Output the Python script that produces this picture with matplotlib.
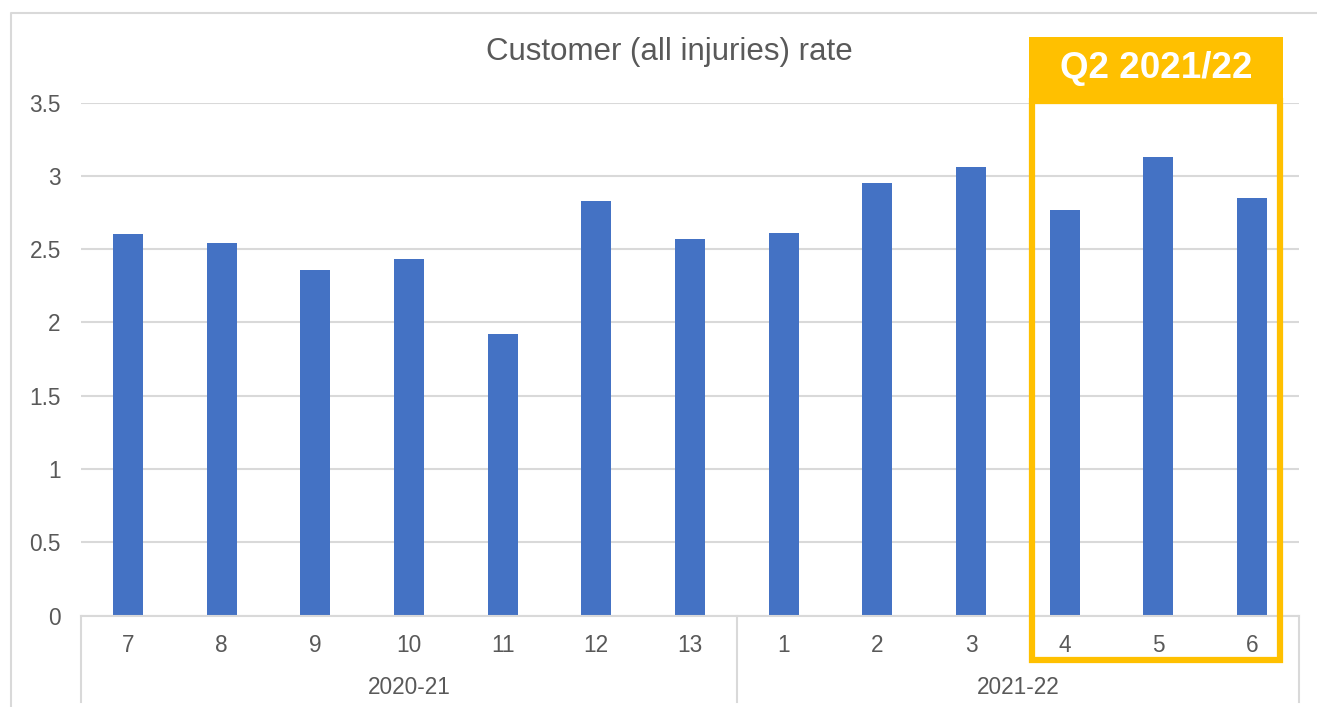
import matplotlib.pyplot as plt
from matplotlib.patches import Rectangle
from matplotlib.lines import Line2D

plt.rcParams['font.family'] = ['Liberation Sans', 'DejaVu Sans']

# Period numbers and injury rates
periods = ['7', '8', '9', '10', '11', '12', '13', '1', '2', '3', '4', '5', '6']
rates = [2.60, 2.54, 2.36, 2.43, 1.92, 2.83, 2.57, 2.61, 2.95, 3.06, 2.77, 3.13, 2.85]
years = ['2020-21', '2021-22']
year_counts = [7, 6]
highlight_label = 'Q2 2021/22'

W, H = 1317, 707
fig = plt.figure(figsize=(W / 100, H / 100), dpi=100)

grey_text = '#595959'
grid_col = '#D9D9D9'
bar_col = '#4472C4'
gold = '#FFC000'
label_size = 16.3

# plot area in pixel coordinates
x0, x1 = 81, 1299
y_base, y_top = 615.7, 102.5
ax = fig.add_axes([x0 / W, 1 - y_base / H, (x1 - x0) / W, (y_base - y_top) / H])

xs = range(len(periods))
ax.bar(xs, rates, width=0.32, color=bar_col, zorder=3)
ax.set_xlim(-0.5, len(periods) - 0.5)
ax.set_ylim(0, 3.5)
ax.set_yticks([0, 0.5, 1, 1.5, 2, 2.5, 3, 3.5])
ax.set_yticklabels(['0', '0.5', '1', '1.5', '2', '2.5', '3', '3.5'])
ax.tick_params(axis='y', length=0, pad=14.5, labelsize=label_size, labelcolor=grey_text)
ax.set_xticks([])
ax.grid(axis='y', color=grid_col, linewidth=1.5, zorder=0)
ax.set_axisbelow(True)
for s in ['top', 'right', 'left']:
    ax.spines[s].set_visible(False)
ax.spines['bottom'].set_color(grid_col)
ax.spines['bottom'].set_linewidth(1.5)
ax.spines['bottom'].set_zorder(4)

# two-level category axis: periods, then years with separators
tr = ax.get_xaxis_transform()
for i, p in enumerate(periods):
    ax.text(i, -0.058, p, transform=tr, ha='center', va='center',
            fontsize=label_size, color=grey_text)

def to_fig_x(v):
    return (x0 + (v + 0.5) / len(periods) * (x1 - x0)) / W

start = 0
bounds = [0]
for name, n in zip(years, year_counts):
    mid = start + (n - 1) / 2
    fig.text(to_fig_x(mid), 1 - 688 / H, name, ha='center', va='center',
             fontsize=label_size, color=grey_text)
    start += n
    bounds.append(start)
for b in bounds:
    xf = to_fig_x(b - 0.5)
    fig.add_artist(Line2D([xf, xf], [1 - y_base / H, 1 - 702 / H],
                          color=grid_col, linewidth=1.5))

# outer chart border (left and top visible)
fig.add_artist(Line2D([10.5 / W, 10.5 / W, 1.0], [0.0, 1 - 12.5 / H, 1 - 12.5 / H],
                      color=grid_col, linewidth=1.5))

# chart title
fig.text(669 / W, 1 - 52 / H, 'Customer (all injuries) rate', ha='center', va='center',
         fontsize=22.5, color=grey_text)

# highlighted quarter box with filled header
bx0, bx1 = 1032, 1280
by_top, by_head, by_bot = 37, 101, 660
fig.add_artist(Rectangle((bx0 / W, 1 - by_bot / H), (bx1 - bx0) / W, (by_bot - by_head) / H,
                         fill=False, edgecolor=gold, linewidth=4.5, zorder=5))
fig.add_artist(Rectangle(((bx0 - 3) / W, 1 - by_head / H), (bx1 - bx0 + 6) / W,
                         (by_head - by_top) / H, facecolor=gold, edgecolor='none', zorder=6))
fig.text((bx0 + bx1) / 2 / W, 1 - 68 / H, highlight_label, ha='center', va='center',
         fontsize=26.5, fontweight='bold', color='white', zorder=7)

fig.savefig('out.png', dpi=100, facecolor='white')
